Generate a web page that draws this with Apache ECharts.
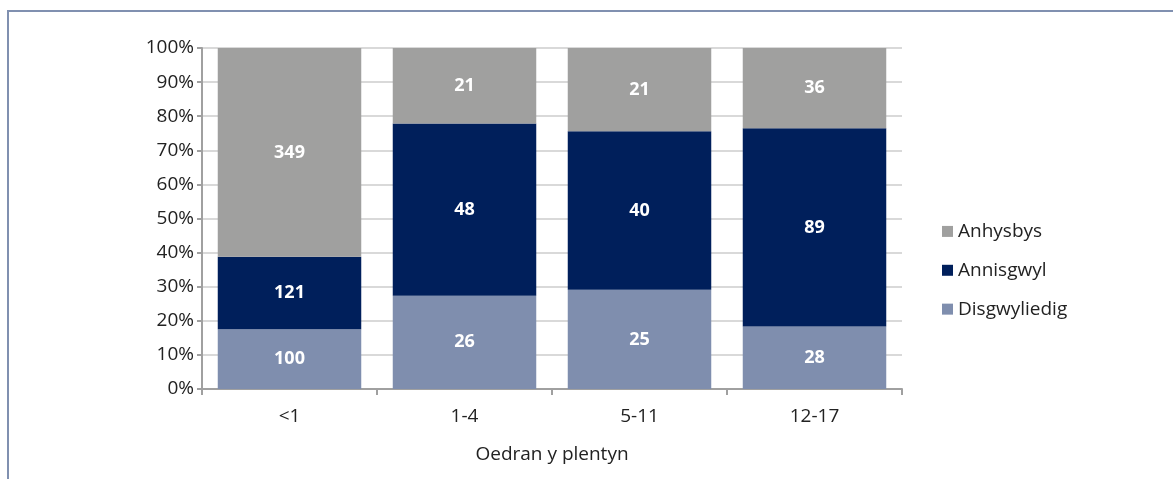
<html>
<head>
    <script src="https://cdn.jsdelivr.net/npm/echarts@6/dist/echarts.min.js"></script>
    <style>
        body { margin: 0; background: #fff; }
        #frame { position: absolute; left: 7px; top: 10px; width: 1180px; height: 480px;
                 border-left: 2px solid #8090b0; border-top: 2px solid #8090b0; }
        #main { position: absolute; left: 0; top: 0; width: 1173px; height: 479px; }
    </style>
</head>
<body>
    <div id="frame"></div>
    <div id="main"></div>
    <script>
        // oedran y plentyn
        var categories = ['<1', '1-4', '5-11', '12-17'];
        // niferoedd (raw counts)
        var disgwyliedig = [100, 26, 25, 28];
        var annisgwyl = [121, 48, 40, 89];
        var anhysbys = [349, 21, 21, 36];
        var yTicks = [0, 10, 20, 30, 40, 50, 60, 70, 80, 90, 100];

        var totals = categories.map(function (c, i) {
            return disgwyliedig[i] + annisgwyl[i] + anhysbys[i];
        });
        function toPct(arr) {
            return arr.map(function (v, i) {
                return { value: v / totals[i] * 100, raw: v };
            });
        }

        var font = 'Open Sans';
        var fs = 19;
        var label = {
            show: true,
            color: '#fff',
            fontWeight: 'bold',
            fontSize: 18,
            fontFamily: font,
            formatter: function (p) { return p.data.raw; }
        };

        var myChart = echarts.init(document.getElementById('main'));
        var option = {
            animation: false,
            grid: { left: 202, right: 271, top: 48, bottom: 90 },
            legend: {
                orient: 'vertical',
                left: 937,
                top: 211,
                padding: 5,
                itemWidth: 11,
                itemHeight: 11,
                itemGap: 8,
                icon: 'rect',
                data: ['Anhysbys', 'Annisgwyl', 'Disgwyliedig'],
                textStyle: { fontSize: fs, fontFamily: font, color: '#222' }
            },
            xAxis: {
                type: 'category',
                data: categories,
                name: 'Oedran y plentyn',
                nameLocation: 'middle',
                nameGap: 50,
                nameTextStyle: { fontSize: fs, fontFamily: font, color: '#222' },
                axisLine: { lineStyle: { color: '#a0a0a0', width: 2 } },
                axisTick: { show: true, length: 6, lineStyle: { color: '#a0a0a0', width: 2 } },
                axisLabel: { fontSize: fs, fontFamily: font, color: '#222', margin: 12 }
            },
            yAxis: {
                type: 'value',
                min: 0,
                max: 100,
                interval: 10,
                axisLine: { show: true, lineStyle: { color: '#a0a0a0', width: 2 } },
                axisTick: { show: true, length: 5, lineStyle: { color: '#a0a0a0', width: 2 } },
                axisLabel: {
                    fontSize: fs, fontFamily: font, color: '#222', margin: 8,
                    formatter: function (v) { return yTicks.indexOf(v) >= 0 ? v + '%' : ''; }
                },
                splitLine: { lineStyle: { color: '#d9d9d9', width: 2 } }
            },
            series: [
                {
                    name: 'Disgwyliedig', type: 'bar', stack: 'all', barCategoryGap: '18%',
                    itemStyle: { color: '#7f8eae' }, label: label, data: toPct(disgwyliedig)
                },
                {
                    name: 'Annisgwyl', type: 'bar', stack: 'all',
                    itemStyle: { color: '#001f5b' }, label: label, data: toPct(annisgwyl)
                },
                {
                    name: 'Anhysbys', type: 'bar', stack: 'all',
                    itemStyle: { color: '#a0a09f' }, label: label, data: toPct(anhysbys)
                }
            ]
        };
        myChart.setOption(option);
    </script>
</body>
</html>
